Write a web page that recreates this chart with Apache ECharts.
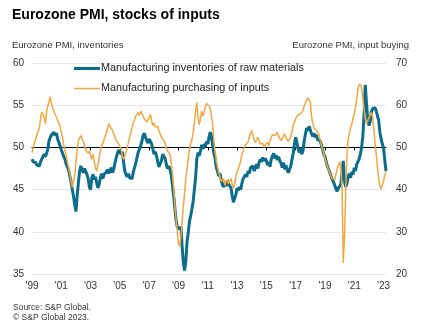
<!DOCTYPE html>
<html><head><meta charset="utf-8">
<script src="https://cdn.jsdelivr.net/npm/echarts@6/dist/echarts.min.js"></script>
<style>html,body{margin:0;padding:0;background:#fff}#c{width:429px;height:327px}</style>
</head><body><div id="c"></div>
<script>
// Monthly data, Jan 1999 - Mar 2023
const startYear = 1999;
const monthCount = 291;
const xTickLabels = ["'99","'01","'03","'05","'07","'09","'11","'13","'15","'17","'19","'21","'23"];
const leftTicks = [35, 40, 45, 50, 55, 60];
const rightTicks = [20, 30, 40, 50, 60, 70];
const seriesNames = ['Manufacturing inventories of raw materials', 'Manufacturing purchasing of inputs'];

// Eurozone PMI, stocks of purchases (left axis)
const inventories = [
48.6,48.3,48.4,48.2,47.9,48.0,47.8,48.3,48.6,48.4,49.2,48.9,
48.9,49.8,50.8,51.2,51.5,51.6,51.8,51.4,51.7,51.0,50.6,50.2,
49.7,49.3,48.9,48.6,48.0,47.7,47.3,46.6,45.9,45.0,44.2,43.2,
42.4,44.3,45.8,47.2,47.8,47.4,47.0,47.5,47.3,46.8,46.3,45.3,
45.0,46.4,46.8,46.2,46.5,45.8,45.2,45.6,46.4,46.9,46.3,46.8,
46.6,47.1,47.4,46.9,47.3,47.6,47.0,47.4,48.2,48.8,49.3,49.7,
49.8,49.2,49.5,48.3,47.2,46.8,46.5,46.9,46.4,46.6,46.3,47.1,
47.6,48.1,48.8,49.4,49.6,50.2,50.7,51.4,51.7,51.2,50.8,50.5,
51.0,51.2,50.4,49.8,49.2,49.5,49.0,48.3,47.7,47.6,48.4,49.2,
49.0,48.7,48.0,47.5,47.8,47.4,46.8,45.6,44.3,42.9,41.4,40.6,
40.7,40.3,40.6,38.2,36.3,35.4,36.5,38.8,39.9,41.2,41.9,42.7,
43.6,45.0,46.4,48.6,49.4,49.0,49.6,50.3,49.8,50.4,50.1,50.7,
50.4,51.2,51.8,51.4,50.2,49.3,48.7,47.6,47.2,46.6,46.9,46.1,
45.6,45.3,45.8,45.4,46.1,45.7,45.9,45.2,44.3,43.5,43.6,44.4,
45.2,44.9,45.3,45.0,45.8,46.3,46.1,46.8,46.5,47.2,46.9,47.6,
47.4,47.8,47.2,47.6,48.0,47.5,48.2,48.6,48.3,48.8,48.4,48.7,
48.4,47.9,48.3,47.7,48.6,49.0,49.3,48.7,49.1,48.5,48.9,48.4,
48.1,47.6,48.2,47.4,47.9,47.3,47.0,47.2,47.8,48.6,49.3,50.4,
51.2,50.6,49.8,49.4,49.9,49.2,49.6,50.8,51.6,52.3,52.0,52.5,
52.3,51.6,51.3,51.7,51.2,51.5,50.9,51.1,50.8,50.3,49.8,49.2,
48.9,48.3,47.8,47.4,47.0,46.6,46.2,45.9,45.5,45.1,44.8,45.2,
45.0,45.6,45.4,48.4,46.0,45.3,45.7,46.5,46.9,46.4,47.1,46.8,
47.6,47.2,48.0,47.8,48.6,49.2,50.0,51.3,53.8,57.4,55.3,53.4,
52.6,53.0,54.2,54.6,54.4,54.7,54.3,54.5,53.2,51.8,51.0,50.4,
49.9,48.5,47.2
];

// Eurozone PMI, quantity of purchases (right axis)
const purchasing = [
48.8,50.0,51.2,52.0,53.0,53.8,54.6,56.8,58.4,58.8,57.2,55.6,
58.6,59.8,61.0,62.0,60.4,59.2,58.8,57.8,57.2,56.4,55.8,55.0,
53.6,52.4,50.6,49.2,47.8,46.6,45.2,43.6,42.0,40.6,41.0,43.4,
46.4,49.2,51.6,52.0,52.8,52.4,51.4,50.4,49.4,49.8,48.6,49.2,
48.0,47.2,48.4,46.6,45.2,44.4,45.8,47.4,49.2,50.2,51.0,51.8,
52.6,53.6,54.6,55.6,55.0,55.4,54.0,53.2,52.4,51.6,52.0,50.8,
50.4,49.6,48.0,47.2,47.6,48.8,50.0,51.2,52.4,53.6,54.8,55.8,
56.6,57.4,57.8,58.2,57.6,58.6,58.2,57.4,56.8,57.2,56.0,55.6,
57.0,57.8,56.4,55.2,55.8,54.8,54.4,55.0,53.8,53.2,52.4,52.8,
51.6,51.0,49.8,49.2,48.8,48.4,46.4,44.0,40.6,36.4,33.0,30.0,
27.2,26.6,28.8,32.4,36.0,39.2,42.4,45.0,47.2,49.6,50.8,51.8,
53.6,55.8,58.4,60.6,57.2,55.4,56.8,58.6,57.4,58.4,59.6,60.4,
60.8,59.8,59.2,57.6,55.2,51.6,49.0,46.8,45.2,44.0,43.0,42.0,
41.6,42.6,41.0,41.8,42.4,41.4,42.0,42.6,41.2,40.4,41.2,43.2,
44.2,45.0,45.8,46.8,48.4,49.2,50.0,50.6,50.2,51.2,52.6,53.4,
54.0,52.8,51.8,51.2,51.6,52.4,52.0,50.8,50.4,51.0,50.0,50.6,
50.2,51.2,50.4,51.6,52.4,53.0,53.4,52.8,53.2,53.6,52.6,52.2,
51.6,51.2,52.6,53.2,52.4,52.8,51.4,51.8,52.6,53.8,55.2,56.0,
56.8,57.4,57.0,57.8,57.4,58.2,58.8,59.8,60.6,61.2,61.8,62.2,
60.8,57.2,55.8,54.6,55.0,54.0,53.8,53.2,51.8,50.6,49.6,48.6,
47.4,46.4,45.6,44.6,44.0,43.2,42.6,42.2,42.4,43.6,44.8,45.8,
46.6,45.4,40.4,22.6,29.0,40.0,48.0,52.0,53.2,54.6,55.6,56.8,
58.0,59.6,61.2,63.8,65.0,65.4,64.4,61.6,59.0,56.8,55.6,56.2,
57.0,57.6,58.2,57.4,54.4,51.2,48.4,45.2,42.6,40.8,40.2,40.6,
42.0,43.4,44.4
];

const months = [];
for (let i = 0; i < monthCount; i++) {
  const y = startYear + Math.floor(i / 12), m = i % 12 + 1;
  months.push(y + '-' + (m < 10 ? '0' + m : m));
}

const FONT = '"Liberation Sans", Arial, sans-serif';
const TEAL = '#0b6d8b', ORANGE = '#f2a83e';
const chart = echarts.init(document.getElementById('c'), null, {renderer: 'canvas'});

const tickEvery = 24;
const gridTop = 63, gridBottom = 53, H = 327;
const plotH = H - gridTop - gridBottom;
const fiftyOffset = -plotH * (50 - leftTicks[0]) / (leftTicks[leftTicks.length-1] - leftTicks[0]);

chart.setOption({
  animation: false,
  backgroundColor: '#fff',
  textStyle: {fontFamily: FONT},
  title: [
    {text: 'Eurozone PMI, stocks of inputs', left: 7, top: 3,
     textStyle: {fontFamily: FONT, fontSize: 14, fontWeight: 'bold', color: '#000'}},
    {text: 'Eurozone PMI, inventories', left: 7, top: 35,
     textStyle: {fontFamily: FONT, fontSize: 9.5, fontWeight: 'normal', color: '#333'}},
    {text: 'Eurozone PMI, input buying', right: 15, top: 35,
     textStyle: {fontFamily: FONT, fontSize: 9.5, fontWeight: 'normal', color: '#333'}},
    {text: 'Source: S&P Global.\n© S&P Global 2023.', left: 8, top: 298,
     textStyle: {fontFamily: FONT, fontSize: 8.5, fontWeight: 'normal', color: '#333', lineHeight: 9.5}}
  ],
  legend: {
    data: [
      {name: seriesNames[0], icon: 'path://M0 0H26V3H0Z', itemStyle: {color: TEAL}},
      {name: seriesNames[1], icon: 'path://M0 0H26V1.5H0Z', itemStyle: {color: ORANGE}}
    ],
    orient: 'vertical',
    left: 74, top: 63, padding: 0,
    itemWidth: 26, itemHeight: 14, itemGap: 9,
    textStyle: {fontFamily: FONT, fontSize: 10.8, color: '#222', padding: [0, 0, 0, -4]}
  },
  grid: {left: 32, right: 43, top: gridTop, bottom: gridBottom, containLabel: false},
  xAxis: [
    {type: 'category', data: months, boundaryGap: false,
     axisLine: {show: false}, axisTick: {show: false},
     axisLabel: {interval: function (i) { return i % tickEvery === 0; },
       formatter: function (v, i) { return xTickLabels[Math.round(i / tickEvery)] || ''; },
       fontFamily: FONT, fontSize: 10, color: '#333', margin: 7, hideOverlap: false},
     splitLine: {show: false}},
    {type: 'category', data: months, boundaryGap: false, position: 'bottom', offset: fiftyOffset,
     axisLine: {show: true, lineStyle: {color: '#000', width: 1.2}},
     axisTick: {show: true, interval: function (i) { return i % tickEvery === 0; }, length: 3, lineStyle: {color: '#000', width: 1}},
     axisLabel: {show: false}, splitLine: {show: false}}
  ],
  yAxis: [
    {type: 'value', min: leftTicks[0], max: leftTicks[leftTicks.length-1], interval: 5, position: 'left',
     axisLine: {show: false}, axisTick: {show: false},
     axisLabel: {fontFamily: FONT, fontSize: 10, color: '#333', margin: 8},
     splitLine: {show: true, lineStyle: {color: '#e6e6e6', width: 1}}},
    {type: 'value', min: rightTicks[0], max: rightTicks[rightTicks.length-1], interval: 10, position: 'right',
     axisLine: {show: false}, axisTick: {show: false},
     axisLabel: {fontFamily: FONT, fontSize: 10, color: '#333', margin: 10},
     splitLine: {show: false}}
  ],
  series: [
    {name: seriesNames[0], type: 'line', data: inventories, xAxisIndex: 0, yAxisIndex: 0,
     showSymbol: false, symbol: 'none', lineStyle: {color: TEAL, width: 3}, itemStyle: {color: TEAL}, z: 3},
    {name: seriesNames[1], type: 'line', data: purchasing, xAxisIndex: 0, yAxisIndex: 1,
     showSymbol: false, symbol: 'none', lineStyle: {color: ORANGE, width: 1.5}, itemStyle: {color: ORANGE}, z: 4}
  ]
});
</script></body></html>
